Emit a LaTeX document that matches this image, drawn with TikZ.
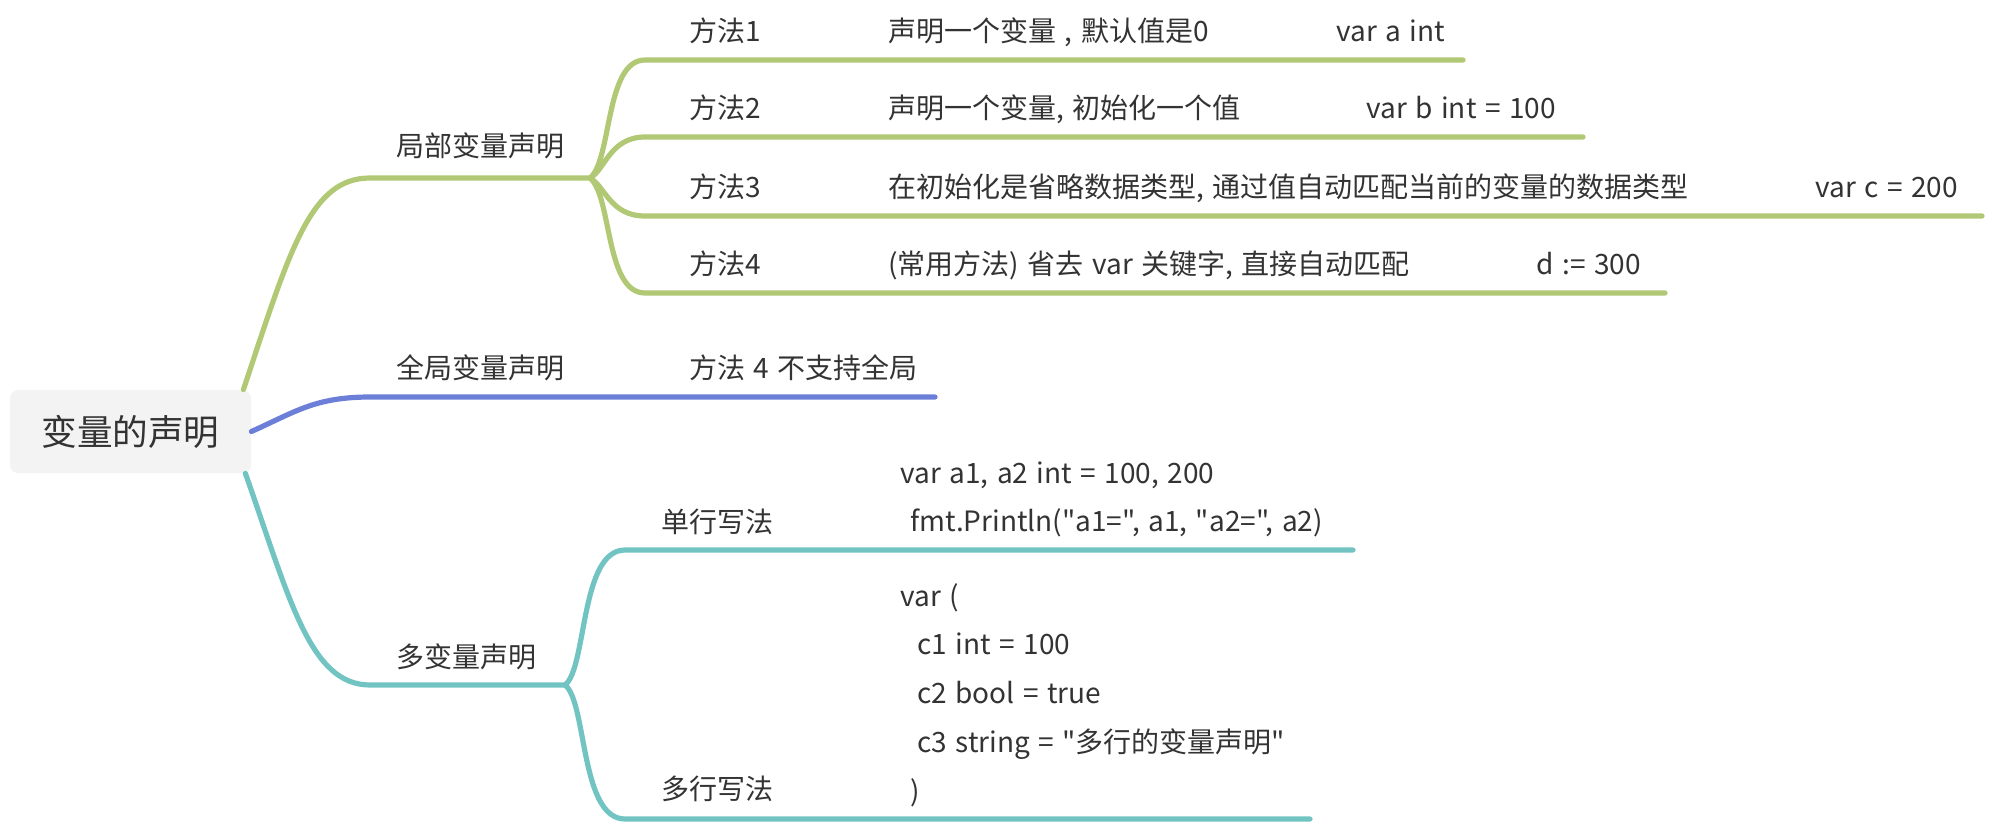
\documentclass[tikz,border=0pt]{standalone}
\usepackage{fontspec}
\setmainfont{Noto Sans CJK SC}[Ligatures=TeXOff, WordSpace=1.35]
\usetikzlibrary{positioning}
\definecolor{Leaf}{HTML}{B1C874}
\definecolor{Iris}{HTML}{6C7FD8}
\definecolor{Lagoon}{HTML}{72C4C3}
\definecolor{Ink}{HTML}{333333}
\definecolor{Chip}{HTML}{F3F3F3}

\begin{document}
\begin{tikzpicture}[x=0.5pt, y=-0.5pt,
    topic/.style={anchor=base west, inner sep=0pt, text=Ink, font=\fontsize{14}{16}\selectfont},
    codeblock/.style={topic, font=\fontsize{14}{24.4}\selectfont},
    branch/.style={line width=2.6pt, line cap=round}]
    \useasboundingbox (0,0) rectangle (1990,824);

    % centre topic
    \node[fill=Chip, rounded corners=4pt, minimum width=120.5pt, minimum height=41.5pt, text=Ink, font=\fontsize{17.8}{20}\selectfont] (root) at (130.5,431.5) {变量的声明};

    % first level
    \node[topic] (local) at (396,156) {局部变量声明};
    \node[topic] (global) at (396,378) {全局变量声明};
    \node[topic] (multi) at (396,667) {多变量声明};

    % local methods
    \node[topic] (m1) at (689,42) {方法1};
    \node[topic] (m2) at (689,119) {方法2};
    \node[topic] (m3) at (689,197) {方法3};
    \node[topic] (m4) at (689,274) {方法4};
    \node[topic] (d1) at (888,42) {声明一个变量 , 默认值是0};
    \node[topic] (d2) at (888,119) {声明一个变量, 初始化一个值};
    \node[topic] (d3) at (888,197) {在初始化是省略数据类型, 通过值自动匹配当前的变量的数据类型};
    \node[topic] (d4) at (888,274) {(常用方法) 省去 var 关键字, 直接自动匹配};
    \node[topic] (v1) at (1336,42) {var a int};
    \node[topic] (v2) at (1366,119) {var b int = 100};
    \node[topic] (v3) at (1815,197) {var c = 200};
    \node[topic] (v4) at (1536,274) {d := 300};

    % global
    \node[topic] (g1) at (689,378) {方法 4 不支持全局};

    % multiple variables
    \node[topic] (single) at (661,532) {单行写法};
    \node[topic] (multiline) at (661,799) {多行写法};
    \node[codeblock] (c1) at (900,483) {\begin{tabular}[t]{@{}l@{}}
      var a1, a2 int = 100, 200\\
      \hspace*{5pt}fmt.Println("a1=", a1, "a2=", a2)
    \end{tabular}};
    \node[codeblock] (c2) at (900,606) {\begin{tabular}[t]{@{}l@{}}
      var (\\
      \hspace*{8.5pt}c1 int = 100\\
      \hspace*{8.5pt}c2 bool = true\\
      \hspace*{8.5pt}c3 string = "多行的变量声明"\\
      \hspace*{5pt})
    \end{tabular}};

    % underline ends
    \coordinate (u-local) at (590,178);
    \coordinate (u-multi) at (565,685);
    \coordinate (e1) at (1463,60);
    \coordinate (e2) at (1583,137);
    \coordinate (e3) at (1982,216);
    \coordinate (e4) at (1665,293);
    \coordinate (eg) at (935,397);
    \coordinate (es) at (1353,550);
    \coordinate (em) at (1310,819);

    % branches
    \draw[branch, Leaf] ([xshift=-4pt]root.north east) .. controls (290,250) and (310,178) .. (370,178) -- (u-local);
    \draw[branch, Iris] (root.east) .. controls (295,412) and (315,397) .. (370,397) -- (eg);
    \draw[branch, Lagoon] ([xshift=-3pt]root.south east) .. controls (290,600) and (310,685) .. (370,685) -- (u-multi);

    \draw[branch, Leaf] (u-local) .. controls (612,160) and (605,60) .. (645,60) -- (e1);
    \draw[branch, Leaf] (u-local) .. controls (605,170) and (610,137) .. (645,137) -- (e2);
    \draw[branch, Leaf] (u-local) .. controls (605,186) and (610,216) .. (645,216) -- (e3);
    \draw[branch, Leaf] (u-local) .. controls (612,196) and (605,293) .. (645,293) -- (e4);

    \draw[branch, Lagoon] (u-multi) .. controls (587,668) and (580,550) .. (625,550) -- (es);
    \draw[branch, Lagoon] (u-multi) .. controls (587,702) and (580,819) .. (625,819) -- (em);
  \end{tikzpicture}
\end{document}
